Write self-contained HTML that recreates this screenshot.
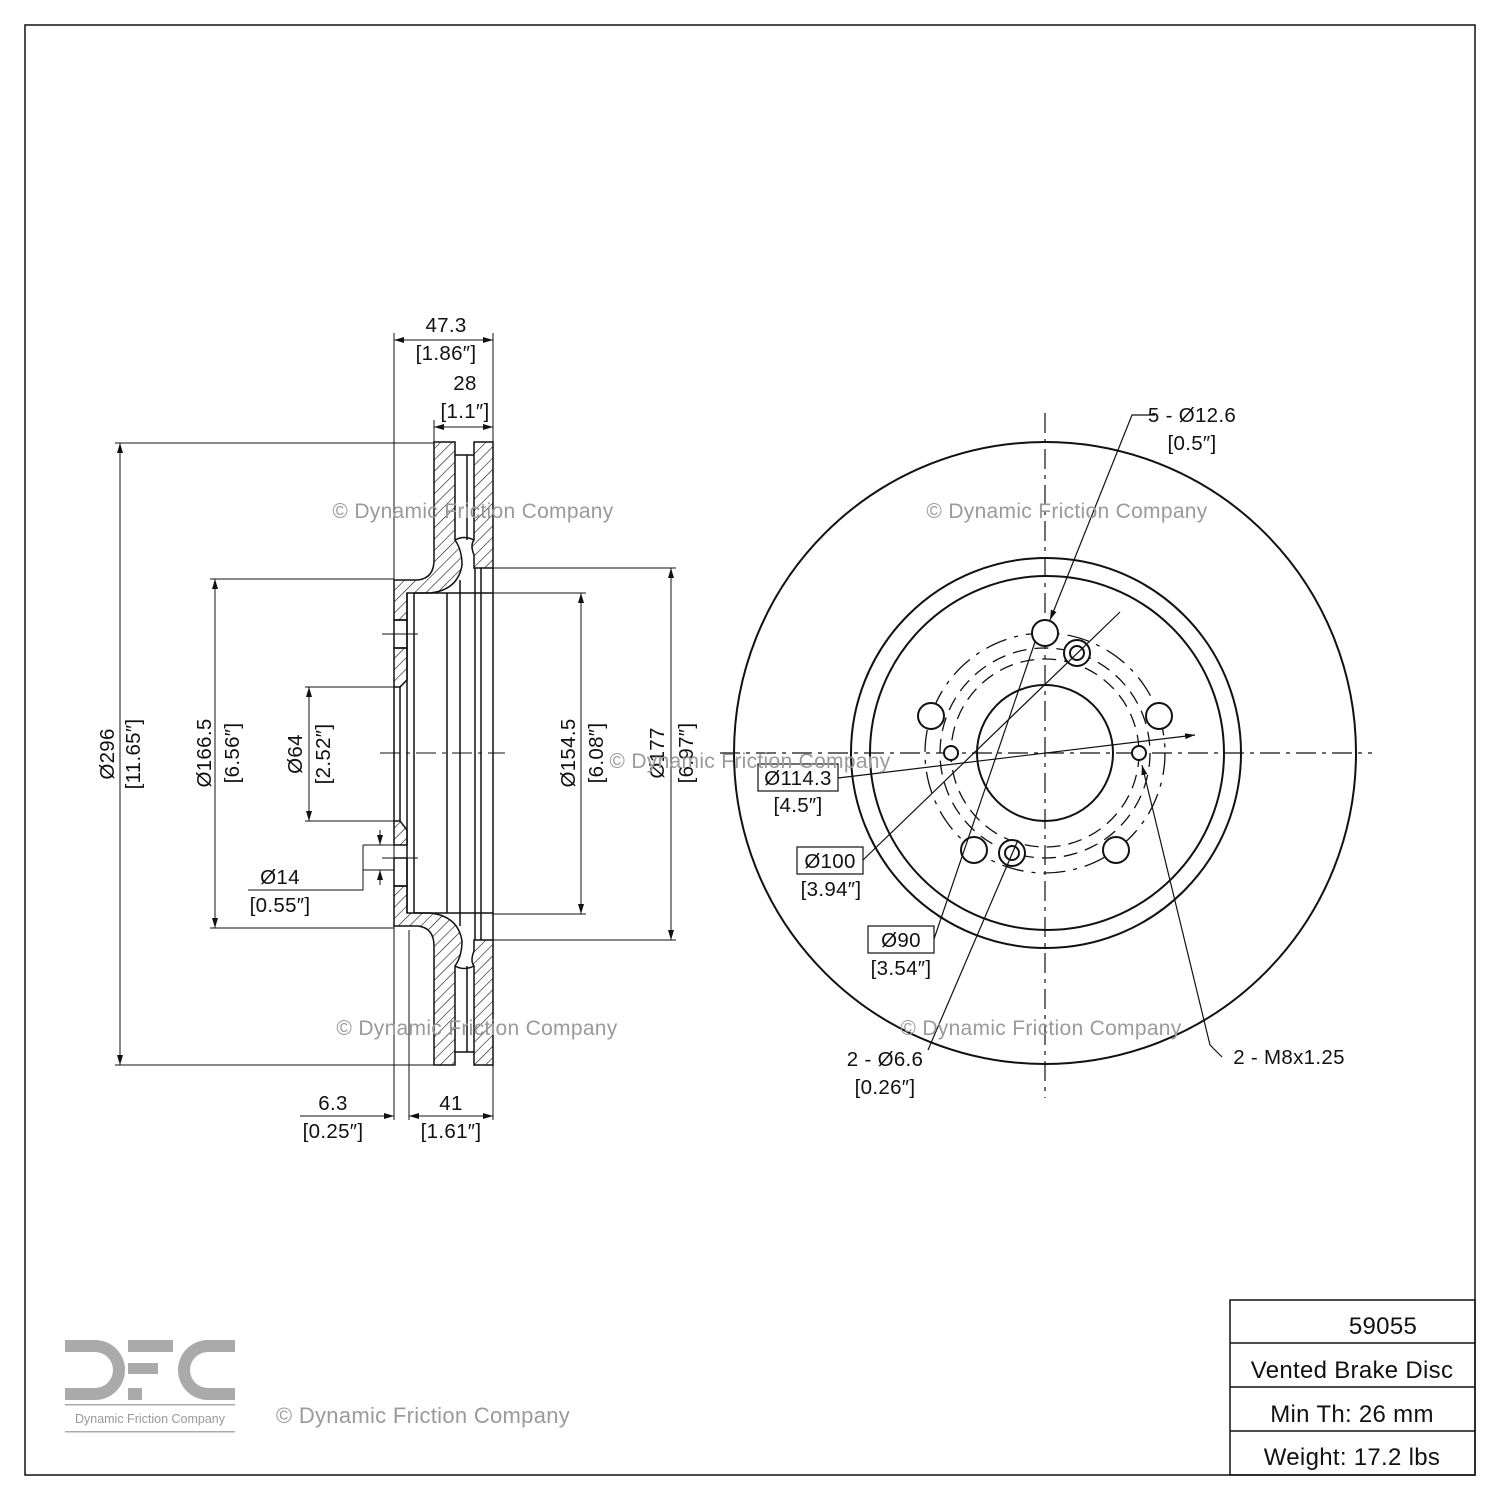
<!DOCTYPE html>
<html><head><meta charset="utf-8"><style>
html,body{margin:0;padding:0;background:#fff}
svg{display:block}
text{font-family:"Liberation Sans",sans-serif;font-size:20.5px;fill:#111;letter-spacing:0.3px}
.wm{fill:#9a9a9a;font-size:21px}
</style></head><body>
<svg width="1500" height="1500" viewBox="0 0 1500 1500" xmlns="http://www.w3.org/2000/svg">
<defs>
<pattern id="h" patternUnits="userSpaceOnUse" width="8" height="8" patternTransform="rotate(45)">
<rect width="8" height="8" fill="#fff"/><line x1="0" y1="0" x2="0" y2="8" stroke="#111" stroke-width="1.2"/>
</pattern>
<marker id="a" viewBox="0 0 10 10" refX="10" refY="5" markerWidth="10" markerHeight="10" orient="auto-start-reverse" markerUnits="userSpaceOnUse"><path d="M0,2 L10,5 L0,8 z" fill="#111"/></marker>
</defs>
<rect x="25" y="25" width="1450" height="1450" fill="none" stroke="#111" stroke-width="1.5"/>

<g stroke="#111" stroke-width="1.5" fill="url(#h)">
<path d="M434,442 H455 V540 Q462,550 462,565 Q458,590 430,593 H407 V620 H394 V580 H418 Q434,578 434,560 Z"/>
<path d="M474,442 H493 V568 H474 V555 Q470,545 474,540 Z"/>
<path d="M394,648 H407 V680 L400,687 H394 Z"/>
<path d="M434,1065 H455 V966 Q462,956 462,941 Q458,916 430,913 H407 V886 H394 V926 H418 Q434,928 434,946 Z"/>
<path d="M474,1065 H493 V940 H474 V951 Q470,961 474,966 Z"/>
<path d="M394,845 H407 V830 L400,821 H394 Z"/>
</g>
<g stroke="#111" stroke-width="1.5" fill="none">
<rect x="394" y="620" width="13" height="28"/>
<rect x="394" y="858" width="13" height="28"/>
<line x1="394" y1="687" x2="394" y2="821"/>
<line x1="400" y1="687" x2="400" y2="821"/>
<line x1="407" y1="593" x2="407" y2="913"/>
<line x1="414" y1="593" x2="414" y2="913"/>
<line x1="414" y1="593" x2="493" y2="593"/>
<line x1="414" y1="913" x2="493" y2="913"/>
<line x1="447" y1="593" x2="447" y2="913"/>
<line x1="460" y1="580" x2="460" y2="926"/>
<line x1="467" y1="455" x2="467" y2="540"/>
<line x1="467" y1="966" x2="467" y2="1052"/>
<line x1="475" y1="568" x2="475" y2="940"/>
<line x1="481" y1="568" x2="481" y2="940"/>
<line x1="493" y1="568" x2="493" y2="940"/>
<line x1="455" y1="455" x2="474" y2="455"/>
<line x1="455" y1="1052" x2="474" y2="1052"/>
<path d="M455,540 Q464,535 474,540"/>
<path d="M455,966 Q464,971 474,966"/>
</g>
<g stroke="#111" stroke-width="1" fill="none">
<line x1="380" y1="753" x2="505" y2="753" stroke-dasharray="20,6,4,6"/>
<line x1="382" y1="634" x2="418" y2="634"/>
<line x1="382" y1="858" x2="418" y2="858"/>
<line x1="394" y1="333" x2="394" y2="1120"/>
<line x1="493" y1="333" x2="493" y2="442"/>
<line x1="434" y1="420" x2="434" y2="442"/>
<line x1="493" y1="1065" x2="493" y2="1120"/>
<line x1="409" y1="930" x2="409" y2="1120"/>
<line x1="115" y1="443" x2="434" y2="443"/>
<line x1="115" y1="1065" x2="434" y2="1065"/>
<line x1="210" y1="579" x2="394" y2="579"/>
<line x1="210" y1="928" x2="394" y2="928"/>
<line x1="305" y1="687" x2="394" y2="687"/>
<line x1="305" y1="821" x2="394" y2="821"/>
<line x1="493" y1="568" x2="676" y2="568"/>
<line x1="493" y1="940" x2="676" y2="940"/>
<line x1="493" y1="593" x2="586" y2="593"/>
<line x1="493" y1="914" x2="586" y2="914"/>
<line x1="394" y1="340" x2="493" y2="340" marker-start="url(#a)" marker-end="url(#a)"/>
<line x1="434" y1="427" x2="493" y2="427" marker-start="url(#a)" marker-end="url(#a)"/>
<line x1="120" y1="443" x2="120" y2="1065" marker-start="url(#a)" marker-end="url(#a)"/>
<line x1="215" y1="579" x2="215" y2="928" marker-start="url(#a)" marker-end="url(#a)"/>
<line x1="309" y1="687" x2="309" y2="821" marker-start="url(#a)" marker-end="url(#a)"/>
<line x1="581" y1="593" x2="581" y2="914" marker-start="url(#a)" marker-end="url(#a)"/>
<line x1="671" y1="568" x2="671" y2="940" marker-start="url(#a)" marker-end="url(#a)"/>
<line x1="300" y1="1116" x2="394" y2="1116" marker-end="url(#a)"/>
<line x1="409" y1="1116" x2="493" y2="1116" marker-start="url(#a)" marker-end="url(#a)"/>
<polyline points="248,890 363,890 363,845"/>
<line x1="363" y1="845" x2="394" y2="845"/>
<line x1="363" y1="870" x2="394" y2="870"/>
<line x1="380" y1="830" x2="380" y2="845" marker-end="url(#a)"/>
<line x1="380" y1="885" x2="380" y2="870" marker-end="url(#a)"/>
</g>
<g text-anchor="middle">
<text x="446" y="332">47.3</text><text x="446" y="360">[1.86″]</text>
<text x="465" y="390">28</text><text x="465" y="418">[1.1″]</text>
<text x="280" y="884">Ø14</text><text x="280" y="912">[0.55″]</text>
<text x="333" y="1110">6.3</text><text x="333" y="1138">[0.25″]</text>
<text x="451" y="1110">41</text><text x="451" y="1138">[1.61″]</text>
<text transform="translate(114,754) rotate(-90)">Ø296</text>
<text transform="translate(140,754) rotate(-90)">[11.65″]</text>
<text transform="translate(211,753) rotate(-90)">Ø166.5</text>
<text transform="translate(239,753) rotate(-90)">[6.56″]</text>
<text transform="translate(302,754) rotate(-90)">Ø64</text>
<text transform="translate(330,754) rotate(-90)">[2.52″]</text>
<text transform="translate(575,753) rotate(-90)">Ø154.5</text>
<text transform="translate(603,753) rotate(-90)">[6.08″]</text>
<text transform="translate(664,753) rotate(-90)">Ø177</text>
<text transform="translate(693,753) rotate(-90)">[6.97″]</text>
</g>

<g stroke="#111" fill="none">
<line x1="1045" y1="413" x2="1045" y2="1098" stroke-width="1.2" stroke-dasharray="20,6,4,6"/>
<line x1="720" y1="753" x2="1372" y2="753" stroke-width="1.2" stroke-dasharray="20,6,4,6"/>
<circle cx="1045" cy="753" r="311" stroke-width="2"/>
<circle cx="1046" cy="753" r="195" stroke-width="2"/>
<circle cx="1047" cy="753" r="177" stroke-width="2"/>
<circle cx="1045" cy="753" r="68" stroke-width="2"/>
<circle cx="1045" cy="753" r="120" stroke-width="1.3" stroke-dasharray="22,8,4,8"/>
<circle cx="1045" cy="753" r="105" stroke-width="1.3" stroke-dasharray="14,8"/>
<circle cx="1045" cy="753" r="94" stroke-width="1.3" stroke-dasharray="14,8"/>
<g stroke-width="2" fill="#fff">
<circle cx="1045" cy="633" r="13"/>
<circle cx="1159" cy="716" r="13"/>
<circle cx="1116" cy="850" r="13"/>
<circle cx="974" cy="850" r="13"/>
<circle cx="931" cy="716" r="13"/>
<circle cx="1077" cy="653" r="13"/><circle cx="1077" cy="653" r="7"/>
<circle cx="1012" cy="853" r="13"/><circle cx="1012" cy="853" r="7"/>
<circle cx="951" cy="753" r="7"/>
<circle cx="1139" cy="753" r="7"/>
</g>
<g stroke-width="1.2">
<polyline points="1155,415 1132,415 1050,620" marker-end="url(#a)"/>
<line x1="838" y1="778" x2="1195" y2="735" marker-end="url(#a)"/>
<line x1="863" y1="860" x2="1120" y2="612"/>
<line x1="934" y1="939" x2="1035" y2="642"/>
<polyline points="928,1050 1018,840"/>
<polyline points="1222,1057 1210,1045 1142,765" marker-end="url(#a)"/>
</g>
<g stroke-width="1.2">
<rect x="758" y="764" width="80" height="27"/>
<rect x="797" y="847" width="66" height="27"/>
<rect x="868" y="926" width="66" height="27"/>
</g>
</g>
<g text-anchor="middle">
<text x="1192" y="422">5 - Ø12.6</text><text x="1192" y="450">[0.5″]</text>
<text x="798" y="785">Ø114.3</text><text x="798" y="812">[4.5″]</text>
<text x="830" y="868">Ø100</text><text x="831" y="896">[3.94″]</text>
<text x="901" y="947">Ø90</text><text x="901" y="975">[3.54″]</text>
<text x="885" y="1066">2 - Ø6.6</text><text x="885" y="1094">[0.26″]</text>
<text x="1289" y="1064">2 - M8x1.25</text>
</g>

<g class="wm" text-anchor="middle">
<text class="wm" x="473" y="518">© Dynamic Friction Company</text>
<text class="wm" x="1067" y="518">© Dynamic Friction Company</text>
<text class="wm" x="750" y="768">© Dynamic Friction Company</text>
<text class="wm" x="477" y="1035">© Dynamic Friction Company</text>
<text class="wm" x="1041" y="1035">© Dynamic Friction Company</text>
<text class="wm" x="423" y="1423" style="font-size:22px">© Dynamic Friction Company</text>
</g>

<g fill="#aaa">
<path d="M65,1340 H95 A30,30 0 0 1 95,1400 H65 V1388 H95 A18,18 0 0 0 95,1352 H65 Z"/>
<rect x="128" y="1340" width="45" height="12"/>
<rect x="128" y="1363" width="30" height="11"/>
<rect x="128" y="1388" width="14" height="12"/>
<path d="M235,1340 H208 A30,30 0 0 0 208,1400 H235 V1388 H208 A18,18 0 0 1 208,1352 H235 Z"/>
<rect x="65" y="1404" width="170" height="1.5"/>
<rect x="65" y="1431" width="170" height="1.5"/>
</g>
<text x="150" y="1423" text-anchor="middle" style="font-size:12.5px;fill:#999;letter-spacing:0">Dynamic Friction Company</text>

<g stroke="#111" stroke-width="1.5" fill="none">
<rect x="1230" y="1300" width="245" height="175"/>
<line x1="1230" y1="1343" x2="1475" y2="1343"/>
<line x1="1230" y1="1387" x2="1475" y2="1387"/>
<line x1="1230" y1="1431" x2="1475" y2="1431"/>
</g>
<g text-anchor="middle">
<text x="1383" y="1334" style="font-size:24px">59055</text>
<text x="1352" y="1378" style="font-size:24px">Vented Brake Disc</text>
<text x="1352" y="1422" style="font-size:24px">Min Th: 26 mm</text>
<text x="1352" y="1465" style="font-size:24px">Weight: 17.2 lbs</text>
</g>
</svg>
</body></html>
